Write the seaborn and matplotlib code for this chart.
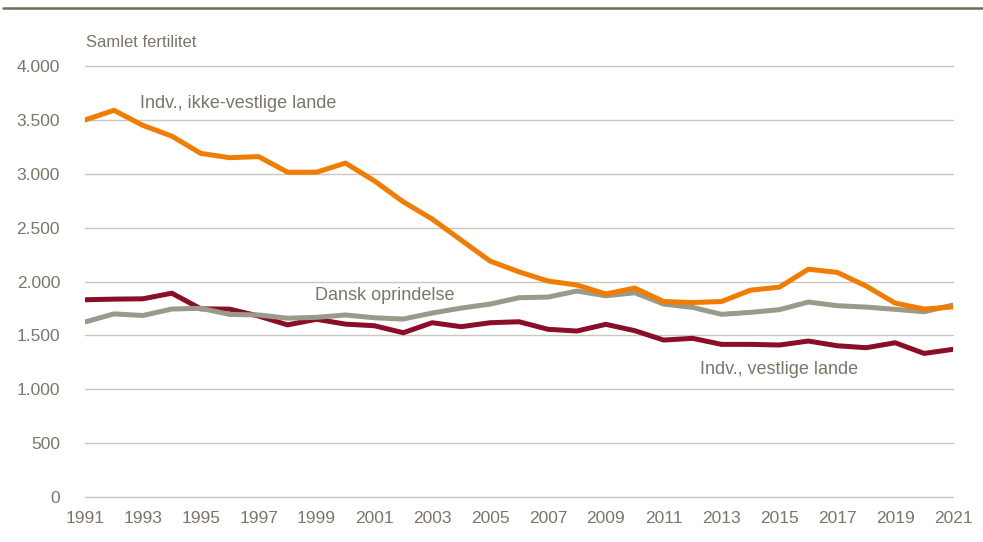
import matplotlib.pyplot as plt
import matplotlib.ticker as mticker
import matplotlib.lines as mlines
import pandas as pd
import seaborn as sns

years = list(range(1991, 2022))
ikke_vestlige = [3500, 3590, 3450, 3350, 3190, 3150, 3160, 3015, 3015, 3100,
                 2935, 2740, 2580, 2385, 2190, 2090, 2005, 1968, 1885, 1940,
                 1815, 1805, 1815, 1920, 1948, 2115, 2085, 1958, 1800, 1745, 1765]
dansk = [1625, 1700, 1685, 1745, 1752, 1695, 1690, 1660, 1668, 1690,
         1664, 1652, 1708, 1754, 1791, 1850, 1856, 1912, 1868, 1896,
         1791, 1760, 1696, 1714, 1739, 1810, 1776, 1763, 1742, 1720, 1782]
vestlige = [1831, 1837, 1840, 1892, 1747, 1744, 1680, 1598, 1650, 1605,
            1590, 1525, 1618, 1581, 1618, 1627, 1557, 1541, 1603, 1544,
            1457, 1473, 1417, 1417, 1411, 1448, 1404, 1386, 1432, 1333, 1371]

series_names = ["Indv., ikke-vestlige lande", "Dansk oprindelse", "Indv., vestlige lande"]
colors = ["#f07c00", "#9a9a8a", "#8a0e28"]

df = pd.DataFrame({
    "år": years * 3,
    "fertilitet": ikke_vestlige + dansk + vestlige,
    "gruppe": [series_names[0]] * 31 + [series_names[1]] * 31 + [series_names[2]] * 31,
})

sns.set_theme(style="white")
plt.rcParams['font.family'] = ['Liberation Sans', 'DejaVu Sans']
text_col = "#7a7668"
grid_col = "#c9c7bd"

fig = plt.figure(figsize=(9.83, 5.42), dpi=100)
ax = fig.add_axes([0.0865, 0.083, 0.883, 0.795])

# orange drawn last so it sits on top of the grey line
sns.lineplot(data=df, x="år", y="fertilitet", hue="gruppe", hue_order=series_names[::-1],
             palette=colors[::-1], linewidth=3.6, legend=False, ax=ax)

ax.set_xlim(1991, 2021)
ax.set_ylim(0, 4000)
ax.set_yticks(range(0, 4001, 500))
ax.set_xticks(range(1991, 2022, 2))
ax.yaxis.set_major_formatter(mticker.FuncFormatter(lambda v, p: f"{int(v):,}".replace(",", ".")))
ax.grid(axis="y", color=grid_col, linewidth=1)
for gl in ax.get_ygridlines():
    gl.set_clip_on(False)
ax.set_axisbelow(True)
for s in ax.spines.values():
    s.set_visible(False)
ax.tick_params(axis="both", length=0, labelsize=12.5, colors=text_col, pad=10)
ax.tick_params(axis="y", pad=18)
ax.set_xlabel("")
ax.set_ylabel("")

ax.text(1991.05, 4215, "Samlet fertilitet", fontsize=12, color=text_col, va="center")
ax.text(1992.9, 3656, "Indv., ikke-vestlige lande", fontsize=13, color=text_col, va="center")
ax.text(1998.95, 1875, "Dansk oprindelse", fontsize=13, color=text_col, va="center")
ax.text(2012.25, 1188, "Indv., vestlige lande", fontsize=13, color=text_col, va="center")

fig.add_artist(mlines.Line2D([0.003, 1.0], [0.985, 0.985], color="#6f6b5a", linewidth=1.8,
                             transform=fig.transFigure))

fig.savefig("out.png", dpi=100)
